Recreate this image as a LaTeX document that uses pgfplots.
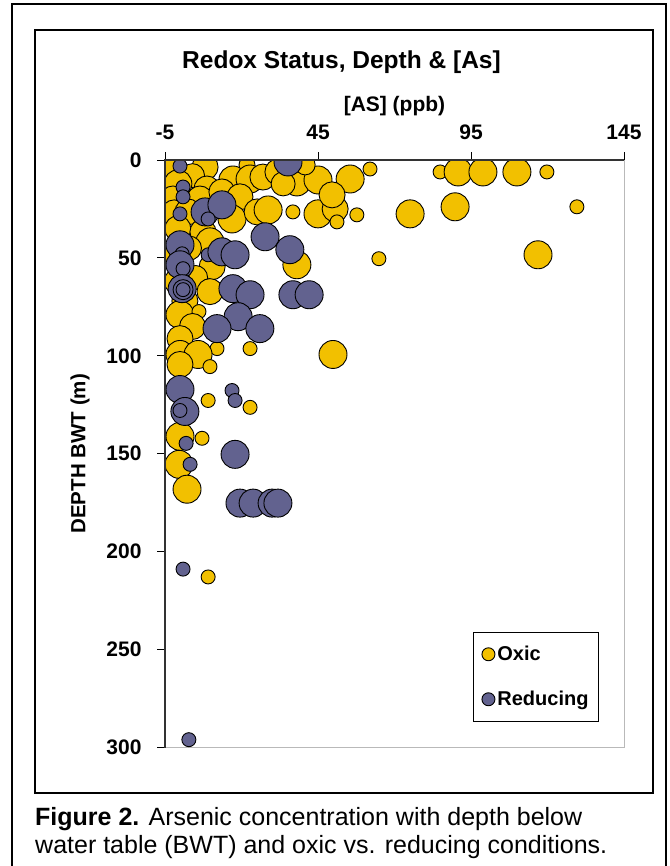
\documentclass[border=0pt]{standalone}
\usepackage{pgfplots}
\pgfplotsset{compat=1.18}
\usepackage{pgfplotstable}
\usepackage{fontspec}
\setmainfont{Liberation Sans}
\definecolor{oxic}{HTML}{F2C000}
\definecolor{reduc}{HTML}{62628F}

\pgfplotstableread{
x y r
-2.4 4.6 14
8.1 3.6 13
4.0 8.0 12
-0.8 12.2 14
8.7 14.8 13
21.8 2.5 8
17.2 10.2 14
22.8 9.7 14
27.0 8.7 13
31.9 6.1 13
38.1 11.2 14
45.0 10.2 14
40.8 2.5 10
55.5 9.7 14
62.0 4.6 7
-2.4 19.9 13
6.4 19.9 13
13.6 16.3 13
19.5 18.8 13
-2.0 27.0 13
2.5 26.5 13
16.9 30.1 14
25.1 26.5 13
28.7 25.5 14
36.8 26.5 7
45.0 27.5 14
50.6 25.0 13
57.7 28.0 7
51.2 31.6 7
49.6 17.8 13
33.6 12.2 12
-0.8 35.1 13
7.4 36.7 13
9.7 41.8 14
3.0 45.0 12
-1.7 49.0 13
38.1 53.5 14
64.9 50.4 7
10.4 54.5 13
5.0 60.0 12
-1.0 62.0 13
9.7 67.2 13
1.5 72.0 13
-0.1 79.0 14
6.1 77.4 7
4.0 85.0 13
-0.1 91.2 13
12.0 96.3 7
22.8 96.3 7
-0.1 99.3 14
5.8 99.3 14
-0.1 104.4 13
9.7 105.5 7
49.9 99.3 14
9.1 122.8 7
22.8 126.3 7
-0.1 141.1 14
7.1 142.1 7
-0.4 155.4 14
2.2 168.1 14
9.1 212.9 7
84.9 6.1 7
90.8 6.1 14
98.9 6.1 14
110.0 6.1 14
119.8 6.1 7
75.1 27.5 14
89.8 23.9 14
129.6 23.9 7
116.9 48.4 14
}\oxictable

\pgfplotstableread{
x y r
-0.1 3.1 7
35.2 1.0 14
0.9 13.8 7
0.9 18.8 7
-0.1 27.5 7
8.1 26.5 14
13.6 22.9 14
9.1 30.1 7
27.7 39.2 14
35.8 45.8 14
-0.1 43.3 14
0.6 47.9 7
9.1 48.4 7
13.6 46.9 14
17.9 48.4 14
0.2 52.0 7
-0.1 53.5 14
0.9 55.5 7
0.6 65.7 14
0.9 66.2 10
0.9 66.2 7
17.2 65.7 14
22.8 68.8 14
36.8 68.8 14
42.1 68.8 14
18.9 80.0 14
12.0 86.1 14
26.0 86.1 14
-0.1 117.2 14
16.9 117.7 7
17.9 122.8 7
1.5 128.4 14
-0.1 127.9 7
1.9 144.7 7
17.9 150.3 14
3.2 155.4 7
19.5 175.2 14
23.8 175.2 14
30.0 175.2 14
31.9 175.2 14
0.9 208.9 7
2.8 296.0 7
}\reductable

\begin{document}
\begin{tikzpicture}[x=1pt,y=1pt]
\useasboundingbox (0,0) rectangle (669,-866);
\draw[line width=1.5pt] (12,-870) -- (12,-4) -- (666,-4) -- (666,-870);
\draw[line width=1.5pt] (35,-30) rectangle (653,-793);
\begin{axis}[
  at={(394.5pt,-453.75pt)}, anchor=center,
  scale only axis, width=459pt, height=587.5pt,
  xmin=-5, xmax=145, ymin=0, ymax=300, y dir=reverse,
  xtick={-5,45,95,145}, ytick={0,50,...,300},
  xtick pos=right, xticklabel pos=right, ytick pos=left,
  tick align=outside, major tick length=8pt,
  tick style={black, line width=1pt},
  axis line style={gray!55, line width=1pt},
  ticklabel style={font=\fontsize{21}{25}\selectfont\bfseries},
  xticklabel style={yshift=9pt},
  yticklabel style={xshift=-12pt},
  /pgf/number format/assume math mode=true,
  xlabel={[AS] (ppb)},
  xlabel style={font=\fontsize{21}{25}\selectfont\bfseries, yshift=2pt},
  ylabel={DEPTH BWT (m)},
  ylabel style={font=\fontsize{20.5}{25}\selectfont\bfseries, yshift=10pt},
  title={Redox Status, Depth \& [As]},
  title style={font=\fontsize{24.5}{29}\selectfont\bfseries, at={(0.5,1)}, anchor=center, yshift=92pt, xshift=-53pt},
  clip mode=individual, clip marker paths=true,
  legend style={at={(0.671,0.197)}, anchor=north west, draw=black, line width=1pt,
    font=\fontsize{20}{24}\selectfont\bfseries, row sep=25pt, inner xsep=8pt, inner ysep=12pt},
  legend cell align=left,
]
\addlegendimage{legend image code/.code={\draw[draw=black, fill=oxic, line width=0.9pt] (6pt,0pt) circle (6.5pt);}}
\addlegendentry{Oxic}
\addlegendimage{legend image code/.code={\draw[draw=black, fill=reduc, line width=0.9pt] (6pt,0pt) circle (6.5pt);}}
\addlegendentry{Reducing}
\addplot[forget plot, scatter, only marks, mark=*,
  scatter/use mapped color={draw=black, fill=oxic},
  mark options={line width=0.9pt},
  visualization depends on={\thisrow{r}\as\rad},
  scatter/@pre marker code/.append style={/tikz/mark size=\rad pt}
] table[x=x, y=y] {\oxictable};
\addplot[forget plot, scatter, only marks, mark=*,
  scatter/use mapped color={draw=black, fill=reduc},
  mark options={line width=0.9pt},
  visualization depends on={\thisrow{r}\as\rad},
  scatter/@pre marker code/.append style={/tikz/mark size=\rad pt}
] table[x=x, y=y] {\reductable};
\draw[black!80, line width=1.5pt] (axis cs:-5,300) -- (axis cs:-5,0) -- (axis cs:145,0);
\end{axis}
\node[anchor=base west, font=\fontsize{25}{30}\selectfont, inner sep=0pt] at (35,-825) {\textbf{Figure 2.} Arsenic concentration with depth below};
\node[anchor=base west, font=\fontsize{25}{30}\selectfont, inner sep=0pt] at (35,-853) {water table (BWT) and oxic vs. reducing conditions.};
\end{tikzpicture}
\end{document}
